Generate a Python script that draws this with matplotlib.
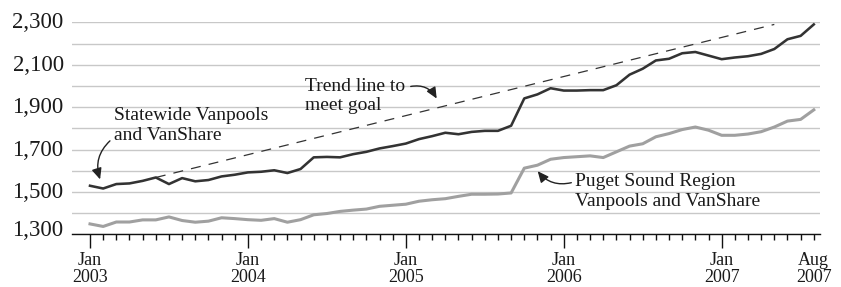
import numpy as np
import pandas as pd
import matplotlib
matplotlib.use("Agg")
import matplotlib.pyplot as plt
from matplotlib.patches import FancyArrowPatch
from matplotlib.ticker import FixedLocator, NullFormatter
from matplotlib.transforms import ScaledTranslation

# ---- data ----
months = pd.date_range("2003-01-01", "2007-08-01", freq="MS")
statewide = [1529, 1516, 1537, 1540, 1552, 1568, 1537, 1565, 1550, 1556,
             1573, 1581, 1592, 1595, 1602, 1589, 1608, 1663, 1665, 1663,
             1678, 1689, 1705, 1716, 1728, 1749, 1763, 1779, 1772, 1783,
             1788, 1788, 1812, 1941, 1960, 1989, 1978, 1978, 1980, 1980,
             2003, 2053, 2081, 2120, 2128, 2154, 2160, 2143, 2126, 2134,
             2140, 2151, 2174, 2220, 2236, 2290]
puget = [1349, 1337, 1358, 1358, 1368, 1368, 1382, 1365, 1357, 1362,
         1378, 1374, 1369, 1366, 1374, 1357, 1369, 1392, 1398, 1408,
         1414, 1419, 1432, 1437, 1442, 1456, 1463, 1468, 1479, 1489,
         1489, 1490, 1495, 1612, 1626, 1654, 1662, 1666, 1670, 1662,
         1689, 1716, 1727, 1760, 1775, 1794, 1806, 1791, 1767, 1767,
         1773, 1784, 1806, 1834, 1842, 1887]
trend_months = ["2003-06-01", "2007-05-01"]
trend_values = [1568, 2290]

ytick_values = list(range(1300, 2301, 100))
ytick_labels = ["1,300", "", "1,500", "", "1,700", "", "1,900", "", "2,100", "", "2,300"]
xtick_pos = [0, 12, 24, 36, 48, 55]
xtick_labels = ["Jan\n2003", "Jan\n2004", "Jan\n2005", "Jan\n2006", "Jan\n2007", "Aug\n2007"]

# ---- figure ----
plt.rcParams["font.family"] = ["Liberation Serif", "DejaVu Serif"]
W, H = 841, 287
fig = plt.figure(figsize=(W / 100, H / 100), dpi=100)
left, right, bottom, top = 72, 820, 287 - 234.3, 287 - 22.3
ax = fig.add_axes([left / W, bottom / H, (right - left) / W, (top - bottom) / H])

x = np.arange(len(months))
month_index = {m: i for i, m in enumerate(months)}
tx = [month_index[pd.Timestamp(t)] for t in trend_months]

ax.plot(x, puget, color="#a0a0a0", lw=2.2, solid_joinstyle="round", zorder=3)
ax.plot(x, statewide, color="#333333", lw=1.85, solid_joinstyle="round", zorder=4)
ax.plot(tx, trend_values, color="#333333", lw=0.9, linestyle=(0, (8, 6.5)), zorder=3)

ax.set_xlim((left - 90) / 13.16, (right - 90) / 13.16)
ax.set_ylim(1300, 2300)

for s in ["top", "right", "left"]:
    ax.spines[s].set_visible(False)
ax.spines["bottom"].set_color("#111111")
ax.spines["bottom"].set_linewidth(1.0)

ax.set_yticks(ytick_values)
ax.set_yticklabels(ytick_labels, fontsize=16.5, color="#1a1a1a")
ax.tick_params(axis="y", length=0, pad=6)
ax.yaxis.grid(True, color="#c8c8c8", lw=1.0)
ax.set_axisbelow(True)
for lab in ax.get_yticklabels():
    dy = 6 if lab.get_text() == "1,300" else 2
    lab.set_transform(lab.get_transform() + ScaledTranslation(0, dy / 100, fig.dpi_scale_trans))

ax.set_xticks(xtick_pos)
ax.set_xticklabels(xtick_labels, fontsize=13, color="#1a1a1a", linespacing=0.98)
ax.xaxis.set_minor_locator(FixedLocator(x))
ax.xaxis.set_minor_formatter(NullFormatter())
ax.tick_params(axis="x", which="major", length=10, width=1.0, color="#111111", pad=3, direction="out")
ax.tick_params(axis="x", which="minor", length=4.5, width=1.0, color="#111111", direction="out")
# Aug 2007 tick is short like a minor one
ax.xaxis.get_major_ticks()[-1].tick1line.set_markersize(4.5)


def px2data(px, py):
    return ((px - 90) / 13.16, 2300 - (py - 22.3) / 21.2 * 100)


def put_text(px, py, s):
    xd, yd = px2data(px, py)
    ax.text(xd, yd, s, fontsize=14, ha="left", va="center", color="#1a1a1a", zorder=6)


put_text(114, 116, "Statewide Vanpools")
put_text(114, 135, "and VanShare")
put_text(305, 86, "Trend line to")
put_text(305, 105, "meet goal")
put_text(575, 181, "Puget Sound Region")
put_text(575, 201, "Vanpools and VanShare")


def arrow(p0, p1, rad):
    a = FancyArrowPatch(px2data(*p0), px2data(*p1), connectionstyle=f"arc3,rad={rad}",
                        arrowstyle="-|>,head_length=0.55,head_width=0.25", mutation_scale=12,
                        color="#222222", lw=1.0, zorder=7)
    ax.add_patch(a)


arrow((112, 139), (101, 182), 0.35)
arrow((408, 87), (438, 101), -0.4)
arrow((574, 182), (536, 169), -0.35)

fig.savefig("out.png", dpi=100)
